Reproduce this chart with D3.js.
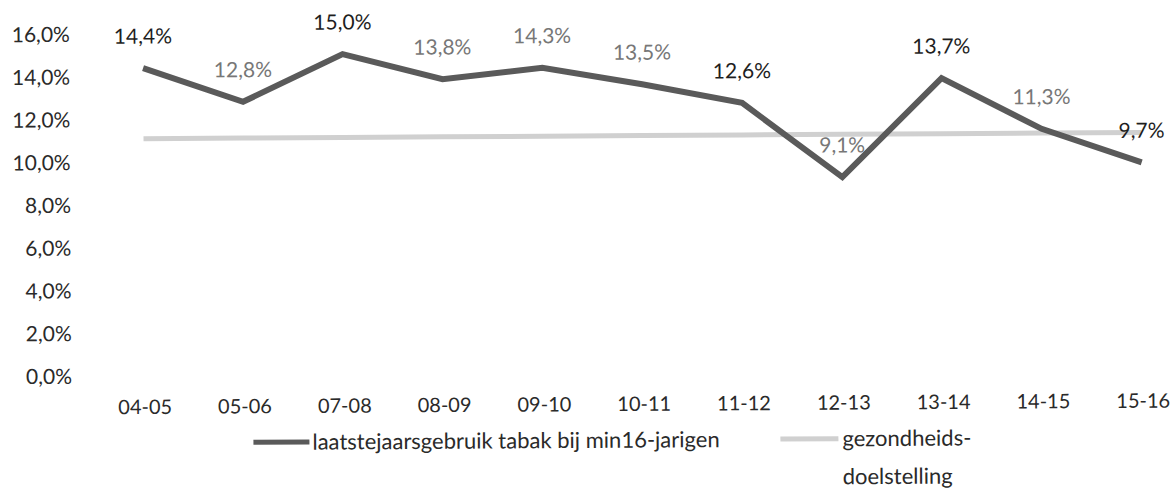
<!DOCTYPE html>
<html lang="nl">
<head>
<meta charset="utf-8">
<title>Tabak</title>
<style>
  body { margin: 0; background: #fff; }
  text { font-family: Lato, 'Open Sans', sans-serif; fill: #2a2a2a; }
</style>
<script src="https://d3js.org/d3.v7.min.js"></script>
</head>
<body>
<svg id="chart" width="1172" height="497"></svg>
<script>
var years = ["04-05", "05-06", "07-08", "08-09", "09-10", "10-11", "11-12", "12-13", "13-14", "14-15", "15-16"];
var gebruik = [14.4, 12.8, 15.0, 13.8, 14.3, 13.5, 12.6, 9.1, 13.7, 11.3, 9.7];
var doel = [11.1, 11.1, 11.1, 11.1, 11.1, 11.1, 11.1, 11.1, 11.1, 11.1, 11.1];
var yTicks = [0, 2, 4, 6, 8, 10, 12, 14, 16];
// some labels print darker than others in the source
var labelDark = [true, false, true, false, false, false, true, false, true, false, true];

// the scanned page is slightly tilted
var svg = d3.select("#chart").append("g")
  .attr("transform", "rotate(-0.36, 145, 376)");
var fmt = function (v) { return v.toFixed(1).replace(".", ",") + "%"; };

var x = d3.scalePoint().domain(years).range([145, 1143]);
var y = d3.scaleLinear().domain([0, 16]).range([376, 34]);

// y axis labels
svg.append("g").selectAll("text")
  .data(yTicks).join("text")
  .attr("x", 72).attr("y", d => y(d))
  .attr("dy", "0.35em")
  .attr("text-anchor", "end")
  .style("font-size", "21px")
  .text(fmt);

// x axis labels
svg.append("g").selectAll("text")
  .data(years).join("text")
  .attr("x", d => x(d)).attr("y", 407)
  .attr("dy", "0.35em")
  .attr("text-anchor", "middle")
  .style("font-size", "20px")
  .text(d => d);

var line = d3.line().x((d, i) => x(years[i])).y(d => y(d));

svg.append("path")
  .attr("d", line(doel))
  .attr("fill", "none")
  .attr("stroke", "#d0d0d0")
  .attr("stroke-width", 5);

svg.append("path")
  .attr("d", line(gebruik))
  .attr("fill", "none")
  .attr("stroke", "#5a5a5a")
  .attr("stroke-width", 6)
  .attr("stroke-linejoin", "miter");

// value labels
svg.append("g").selectAll("text")
  .data(gebruik).join("text")
  .attr("x", (d, i) => x(years[i]))
  .attr("y", d => y(d) - 32)
  .attr("dy", "0.35em")
  .attr("text-anchor", "middle")
  .style("font-size", "21px")
  .style("fill", (d, i) => labelDark[i] ? "#1e1e1e" : "#777")
  .text(fmt);

// legend
var lg = svg.append("g");
lg.append("line").attr("x1", 253).attr("x2", 309).attr("y1", 443).attr("y2", 443)
  .attr("stroke", "#5a5a5a").attr("stroke-width", 5);
lg.append("text").attr("x", 312).attr("y", 443).attr("dy", "0.35em")
  .style("font-size", "22px").text("laatstejaarsgebruik tabak bij min16-jarigen");
lg.append("line").attr("x1", 780).attr("x2", 838).attr("y1", 443).attr("y2", 443)
  .attr("stroke", "#d0d0d0").attr("stroke-width", 5);
lg.append("text").attr("x", 842).attr("y", 443).attr("dy", "0.35em")
  .style("font-size", "22px").text("gezondheids-");
lg.append("text").attr("x", 842).attr("y", 481).attr("dy", "0.35em")
  .style("font-size", "22px").text("doelstelling");
</script>
</body>
</html>
